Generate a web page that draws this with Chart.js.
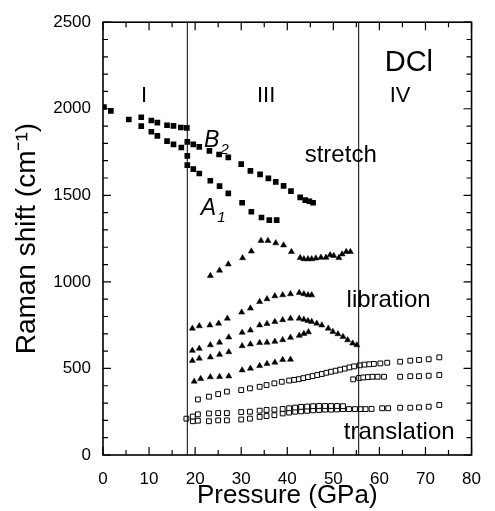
<!DOCTYPE html>
<html>
<head>
<meta charset="utf-8">
<script src="https://cdn.jsdelivr.net/npm/chart.js@4.4.0/dist/chart.umd.min.js"></script>
<style>
  html, body { margin: 0; padding: 0; background: #fff; }
  #wrap { width: 495px; height: 511px; }
</style>
</head>
<body>
<div id="wrap"><canvas id="ramanChart" width="495" height="511"></canvas></div>
<script>
// axis ticks
const xTickValues = [0, 10, 20, 30, 40, 50, 60, 70, 80];
const yTickValues = [0, 500, 1000, 1500, 2000, 2500];
const phaseBoundaries = [18.3, 55.5];

// stretching modes (filled squares)
const stretchPhaseI = [
  [0.2, 2010], [1.7, 1988], [5.6, 1938], [8.3, 1951], [8.3, 1900], [10.5, 1932],
  [11.8, 1920], [10.5, 1867], [11.8, 1843], [13.9, 1905], [15.3, 1901], [16.9, 1892],
  [18.2, 1890], [13.9, 1813], [15.3, 1794], [17.0, 1776]
];
const stretchB2 = [
  [18.3, 1809], [19.6, 1794], [20.9, 1780], [23.1, 1757], [25.2, 1736], [27.2, 1719],
  [30.0, 1680], [32.0, 1641], [34.1, 1621], [35.9, 1598], [37.5, 1578], [39.2, 1555],
  [40.8, 1524], [42.8, 1488], [43.9, 1472], [44.8, 1466], [45.6, 1457]
];
const stretchA1 = [
  [18.3, 1728], [18.3, 1674], [19.6, 1651], [20.9, 1626], [23.3, 1584], [25.3, 1553],
  [27.2, 1511], [30.2, 1457], [32.2, 1405], [34.4, 1372], [36.1, 1357], [37.7, 1357]
];

// librations (filled triangles)
const libration1 = [
  [23.3, 1035], [25.3, 1066], [27.2, 1102], [30.3, 1138], [32.2, 1177], [34.3, 1238],
  [35.8, 1238], [37.5, 1224], [39.2, 1212], [40.9, 1174], [42.8, 1139], [43.6, 1132],
  [44.5, 1132], [45.3, 1132], [46.2, 1136], [47.3, 1141], [48.4, 1141], [49.3, 1155],
  [50.1, 1151], [51.2, 1139], [51.9, 1160], [52.8, 1174], [53.7, 1174]
];
const libration2 = [
  [19.4, 731], [20.9, 745], [23.2, 750], [25.1, 760], [27.0, 789], [30.1, 824],
  [32.0, 847], [34.0, 885], [35.6, 901], [37.3, 918], [39.0, 924], [40.7, 930],
  [42.6, 937], [43.6, 930], [44.5, 924], [45.3, 924]
];
const libration3 = [
  [19.4, 603], [20.9, 615], [23.3, 635], [25.3, 650], [27.3, 680], [30.2, 707],
  [32.0, 720], [34.0, 750], [35.6, 758], [37.3, 770], [39.0, 780], [40.7, 789],
  [42.6, 789], [43.6, 783], [44.5, 775], [45.3, 770], [46.4, 760], [47.5, 750],
  [48.9, 731], [49.9, 712], [51.0, 699], [52.1, 683], [53.1, 664], [54.2, 645], [55.1, 635]
];
const libration4 = [
  [19.4, 545], [20.9, 558], [23.3, 565], [25.3, 580], [27.3, 595], [30.2, 630],
  [32.0, 640], [34.0, 648], [35.6, 650], [37.3, 655], [39.0, 665], [40.7, 678],
  [42.6, 690], [43.6, 700], [44.6, 710]
];
const libration5 = [
  [19.8, 425], [21.2, 440], [23.3, 450], [25.3, 452], [27.3, 455], [30.2, 490],
  [32.0, 500], [34.0, 515], [35.6, 527], [37.3, 535], [39.0, 550], [40.7, 552]
];

// translations (open squares)
const translation1 = [
  [20.6, 321], [23.0, 337], [25.0, 352], [26.9, 366], [30.0, 375], [31.9, 385],
  [34.0, 394], [35.5, 404], [37.2, 414], [38.8, 423], [40.4, 430], [41.5, 434],
  [42.5, 438], [43.5, 444], [44.5, 450], [45.5, 456], [46.5, 462], [47.5, 468],
  [48.5, 475], [49.5, 481], [50.5, 487], [51.5, 493], [52.5, 499], [53.5, 506],
  [54.5, 512], [55.7, 518], [56.8, 522], [57.8, 524], [58.8, 526], [60.2, 529],
  [61.7, 533], [64.5, 539], [66.7, 545], [68.6, 549], [70.7, 553], [73.0, 564]
];
const translation2 = [
  [54.3, 437], [55.6, 445], [56.5, 448], [57.5, 450], [58.5, 452], [59.6, 452],
  [61.0, 452], [64.5, 452], [66.7, 455], [68.6, 455], [70.7, 458], [73.0, 462]
];
const translation3 = [
  [19.5, 222], [20.6, 235], [23.0, 240], [25.0, 242], [26.9, 242], [30.0, 248],
  [31.9, 250], [34.0, 256], [35.5, 260], [37.2, 262], [39.0, 266], [40.4, 270],
  [41.7, 274], [43.0, 278], [44.3, 280], [45.6, 282], [46.9, 283], [48.2, 283],
  [49.5, 283], [50.8, 283], [52.1, 282]
];
const translation4 = [
  [18.1, 210], [19.5, 195], [20.6, 198], [23.0, 195], [25.0, 200], [26.9, 200],
  [30.0, 205], [31.9, 210], [34.0, 220], [35.5, 225], [37.2, 230], [39.0, 240],
  [40.4, 245], [41.7, 250], [43.0, 252], [44.3, 255], [45.6, 258], [46.9, 260],
  [48.2, 262], [49.5, 262], [50.8, 263], [52.1, 265], [53.4, 265], [54.7, 265],
  [55.9, 265], [57.0, 265], [58.3, 266], [60.6, 270], [61.9, 270], [64.5, 273],
  [66.7, 273], [68.6, 275], [70.7, 279], [73.0, 289]
];

// text written inside the plot
const plotLabels = [
  { text: 'I', x: 8.9, y: 2074, size: 22 },
  { text: 'III', x: 35.4, y: 2074, size: 22 },
  { text: 'IV', x: 64.5, y: 2074, size: 22 },
  { text: 'DCl', x: 66.4, y: 2264, size: 29 },
  { text: 'stretch', x: 51.6, y: 1728, size: 24 },
  { text: 'libration', x: 62.0, y: 893, size: 24 },
  { text: 'translation', x: 64.3, y: 132, size: 24 },
  { text: 'B', sub: '2', x: 23.6, y: 1815, size: 23, italic: true },
  { text: 'A', sub: '1', x: 22.9, y: 1423, size: 23, italic: true }
];

const FONT = '"Liberation Sans", Arial, sans-serif';
const toPoints = arr => arr.map(p => ({ x: p[0], y: p[1] }));

function filledSquares(data) {
  return { data: toPoints(data), pointStyle: 'rect', pointRadius: 4, backgroundColor: '#000', borderColor: '#000', borderWidth: 0, showLine: false };
}
function triangles(data) {
  return { data: toPoints(data), pointStyle: 'triangle', pointRadius: 3.5, backgroundColor: '#000', borderColor: '#000', borderWidth: 0.5, showLine: false };
}
function openSquares(data) {
  return { data: toPoints(data), pointStyle: 'rect', pointRadius: 3.4, backgroundColor: '#fff', borderColor: '#000', borderWidth: 1, showLine: false };
}

const boundaryLines = phaseBoundaries.map(p => ({
  data: [{ x: p, y: 0 }, { x: p, y: 2500 }],
  showLine: true, borderColor: '#000', borderWidth: 1, pointRadius: 0
}));

// frame, inward ticks and labels inside the axes
const frameAndText = {
  id: 'frameAndText',
  afterDatasetsDraw(chart) {
    const { ctx, chartArea: a, scales: { x, y } } = chart;
    ctx.save();
    ctx.strokeStyle = '#000';
    ctx.lineWidth = 1.6;
    ctx.strokeRect(a.left, a.top, a.right - a.left, a.bottom - a.top);

    ctx.lineWidth = 1.2;
    ctx.beginPath();
    for (let v = x.min; v <= x.max; v += 5) {
      const px = x.getPixelForValue(v);
      const len = v % 10 === 0 ? 8 : 5;
      ctx.moveTo(px, a.bottom); ctx.lineTo(px, a.bottom - len);
      ctx.moveTo(px, a.top); ctx.lineTo(px, a.top + len);
    }
    for (let v = y.min; v <= y.max; v += 100) {
      const py = y.getPixelForValue(v);
      const len = v % 500 === 0 ? 8 : 5;
      ctx.moveTo(a.left, py); ctx.lineTo(a.left + len, py);
      ctx.moveTo(a.right, py); ctx.lineTo(a.right - len, py);
    }
    ctx.stroke();

    ctx.fillStyle = '#000';
    ctx.textAlign = 'center';
    ctx.textBaseline = 'middle';
    plotLabels.forEach(l => {
      const px = x.getPixelForValue(l.x);
      const py = y.getPixelForValue(l.y);
      ctx.font = (l.italic ? 'italic ' : '') + l.size + 'px ' + FONT;
      if (l.sub) {
        const w = ctx.measureText(l.text).width;
        ctx.textAlign = 'left';
        ctx.fillText(l.text, px - w / 2, py);
        ctx.font = (l.italic ? 'italic ' : '') + Math.round(l.size * 0.65) + 'px ' + FONT;
        ctx.fillText(l.sub, px + w / 2 + 1, py + l.size * 0.4);
        ctx.textAlign = 'center';
      } else {
        ctx.fillText(l.text, px, py);
      }
    });
    ctx.restore();
  }
};

const ctx = document.getElementById('ramanChart').getContext('2d');
const ramanChart = new Chart(ctx, {
  type: 'scatter',
  data: {
    datasets: [
      ...boundaryLines,
      filledSquares(stretchPhaseI),
      filledSquares(stretchB2),
      filledSquares(stretchA1),
      triangles(libration1),
      triangles(libration2),
      triangles(libration3),
      triangles(libration4),
      triangles(libration5),
      openSquares(translation1),
      openSquares(translation2),
      openSquares(translation3),
      openSquares(translation4)
    ]
  },
  options: {
    responsive: false,
    animation: false,
    layout: { padding: { top: 21, right: 15, left: 0, bottom: 0 } },
    plugins: { legend: { display: false }, tooltip: { enabled: false } },
    scales: {
      x: {
        type: 'linear', min: 0, max: 80,
        afterBuildTicks: s => { s.ticks = xTickValues.map(v => ({ value: v })); },
        afterFit: s => { s.height = 56; },
        grid: { display: false, drawTicks: false },
        border: { display: false },
        ticks: { color: '#000', padding: 14, maxRotation: 0, callback: v => String(v), font: { family: FONT, size: 17 } },
        title: { display: true, text: 'Pressure (GPa)', color: '#000', padding: 0, font: { family: FONT, size: 26 } }
      },
      y: {
        type: 'linear', min: 0, max: 2500,
        afterBuildTicks: s => { s.ticks = yTickValues.map(v => ({ value: v })); },
        afterFit: s => { s.width = 103; },
        grid: { display: false, drawTicks: false },
        border: { display: false },
        ticks: { color: '#000', padding: 12, callback: v => String(v), font: { family: FONT, size: 17 } },
        title: { display: true, text: 'Raman shift (cm\u207B\u00B9)', color: '#000', padding: { top: 10, bottom: 0 }, font: { family: FONT, size: 28 } }
      }
    }
  },
  plugins: [frameAndText]
});
</script>
</body>
</html>
